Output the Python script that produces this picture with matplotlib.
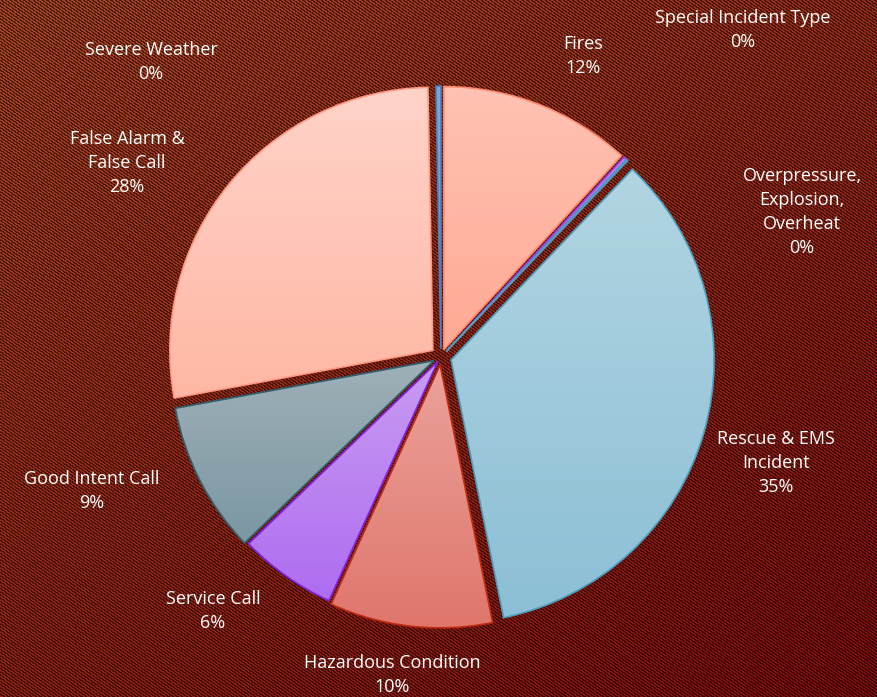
import matplotlib
matplotlib.use("Agg")
import matplotlib.pyplot as plt
import numpy as np
from matplotlib.colors import LinearSegmentedColormap

categories = ["Fires", "Special Incident Type", "Overpressure,\nExplosion,\nOverheat",
              "Rescue & EMS\nIncident", "Hazardous Condition", "Service Call",
              "Good Intent Call", "False Alarm &\nFalse Call", "Severe Weather"]
values = [11.8, 0.2, 0.1, 34.7, 10.0, 6.0, 9.3, 27.6, 0.3]

# top / bottom colours of each slice gradient, and edge colour
top_cols = ["#ffc2b3", "#cc88f5", "#b4d6e3", "#b2d5e2", "#eba29b", "#c99cf2",
            "#9fb0b8", "#ffd3c9", "#7fa8d8"]
bot_cols = ["#ffa994", "#b060f0", "#8fc0d6", "#8cbfd5", "#df766c", "#ae6cf0",
            "#7b97a2", "#ffb7a4", "#5f8fc8"]
edge_cols = ["#ff8a70", "#9a40e8", "#4a9fc0", "#4a9fc0", "#c02a10", "#8020e0",
             "#2f6070", "#ff9a85", "#4a80c0"]
explode = [0.03, 0.03, 0.03, 0.04, 0.03, 0.02, 0.03, 0.04, 0.03]

# label centres in pixels of the 877x697 picture
label_px = [(583, 56), (743, 30), (802, 212), (776, 463), (392, 675),
            (213, 611), (92, 491), (127, 163), (151, 62)]

W, H = 877, 697
cx, cy, R = 441, 357, 263

fig = plt.figure(figsize=(W / 100, H / 100), dpi=100)

# striped background with a diagonal gradient, drawn pixel for pixel
yy, xx = np.mgrid[0:H, 0:W]
t = np.clip((xx / W * 0.6 + yy / H * 0.9) / 1.5, 0, 1)[..., None]
light = np.array([168, 72, 36]) * (1 - t) + np.array([128, 14, 14]) * t
dark = np.array([78, 26, 12]) * (1 - t) + np.array([58, 5, 5]) * t
stripe = (((yy - 0.7 * xx) % 3.2) < 1.6)[..., None]
bg = np.where(stripe, light, dark) / 255.0
fig.figimage(bg, xo=0, yo=0, origin="upper", zorder=-10)

ax = fig.add_axes([0, 0, 1, 1])
ax.set_zorder(1)
ax.patch.set_visible(False)
x0, x1 = -cx / R, (W - cx) / R
y0, y1 = -(H - cy) / R, cy / R

wedges, _ = ax.pie(values, startangle=90, counterclock=False, radius=1,
                   explode=explode, wedgeprops=dict(linewidth=0))

for i, w in enumerate(wedges):
    w.set_facecolor("none")
    w.set_zorder(3)
    w.set_edgecolor(edge_cols[i])
    w.set_linewidth(1.2)
    bb = w.get_path().transformed(w.get_patch_transform()).get_extents()
    cmap = LinearSegmentedColormap.from_list("g%d" % i, [bot_cols[i], top_cols[i]])
    grad = np.linspace(0, 1, 256)[:, None]
    im = ax.imshow(grad, cmap=cmap, origin="lower", aspect="auto",
                   extent=(bb.x0, bb.x1, bb.y0, bb.y1), zorder=2)
    im.set_clip_path(w)

total = sum(values)
for i, name in enumerate(categories):
    px, py = label_px[i]
    pct = "%.0f%%" % (values[i] / total * 100)
    ax.text((px - cx) / R, (cy - py) / R, name + "\n" + pct, ha="center", va="center",
            color="white", fontsize=13, family="Open Sans", linespacing=1.42, zorder=5)

ax.set_xlim(x0, x1)
ax.set_ylim(y0, y1)
ax.set_aspect("equal")
ax.axis("off")

fig.savefig("out.png", dpi=100)
